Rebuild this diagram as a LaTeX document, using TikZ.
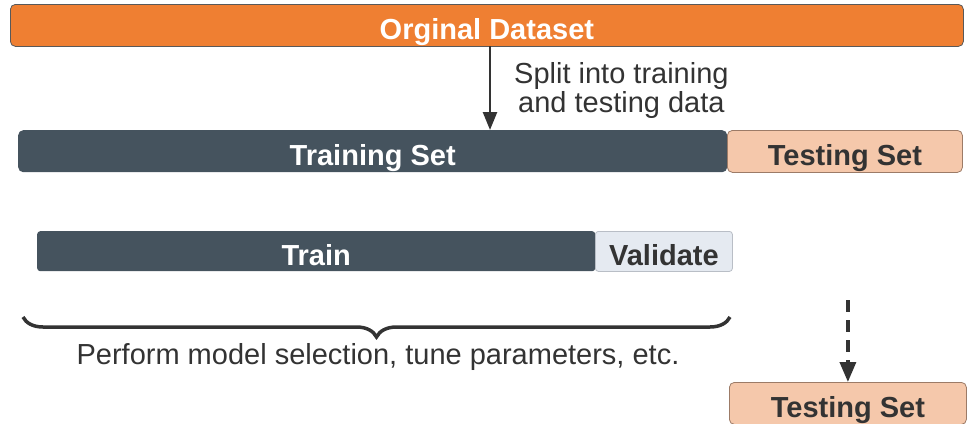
\documentclass[tikz,border=0pt]{standalone}
\usepackage{fontspec}
\setmainfont{Liberation Sans}
\usetikzlibrary{arrows.meta,decorations.pathreplacing}
\definecolor{origorange}{HTML}{EF7F32}
\definecolor{slate}{HTML}{45535E}
\definecolor{peach}{HTML}{F5C8AB}
\definecolor{peachedge}{HTML}{9C7B67}
\definecolor{valfill}{HTML}{E5EAF1}
\definecolor{valedge}{HTML}{B9BEC6}
\definecolor{ink}{HTML}{333333}
\tikzset{
  bar/.style={anchor=north west, inner sep=0pt, rounded corners=5pt, text height=29pt, text depth=0pt, font=\bfseries\fontsize{29}{32}\selectfont},
  lbl/.style={font=\fontsize{29}{32}\selectfont, text=ink, inner sep=0pt},
  arr/.style={-{Triangle[length=18pt,width=14pt]}, line width=2.5pt, draw=ink},
}
\begin{document}
\begin{tikzpicture}[x=1pt,y=-1pt]
\useasboundingbox (0,0) rectangle (977,423);
% top bar
\node[bar, fill=origorange, draw=gray!70!black, line width=0.8pt, minimum width=953pt, minimum height=42pt, text=white] (orig) at (10,4) {Orginal Dataset};
% split
\node[bar, fill=slate, minimum width=709pt, minimum height=42pt, text=white] (trainset) at (18,130) {Training Set};
\node[bar, fill=peach, draw=peachedge, line width=0.8pt, minimum width=235pt, minimum height=42pt, text=ink] (testset) at (727,130) {Testing Set};
\draw[arr] (490,46) coordinate (split) -- (split |- trainset.north);
\node[lbl, anchor=north west, align=center] (splitlbl) at (514,62) {Split into training\\[-3pt]and testing data};
% train / validate
\node[bar, fill=slate, minimum width=558pt, minimum height=40pt, text=white, rounded corners=3pt] (train) at (37,231) {Train};
\node[bar, fill=valfill, draw=valedge, line width=0.8pt, minimum width=137pt, minimum height=40pt, text=ink, rounded corners=3pt] (validate) at (595,231) {Validate};
% brace
\coordinate (bl) at (23,317);
\coordinate (br) at (730,317);
\draw[decorate, decoration={brace, mirror, amplitude=20pt}, line width=3.5pt, draw=ink] (bl) -- (br);
\node[lbl, anchor=north] (perf) at (378,343) {Perform model selection, tune parameters, etc.};
% final testing set
\node[bar, fill=peach, draw=peachedge, line width=0.8pt, minimum width=237pt, minimum height=42pt, text=ink] (testfinal) at (729,382) {Testing Set};
\coordinate (dstart) at (testfinal.north |- 0,300);
\draw[-{Triangle[length=20pt,width=16pt]}, line width=3.5pt, draw=ink, dash pattern=on 12pt off 8pt] (dstart) -- (testfinal.north);
\end{tikzpicture}
\end{document}
